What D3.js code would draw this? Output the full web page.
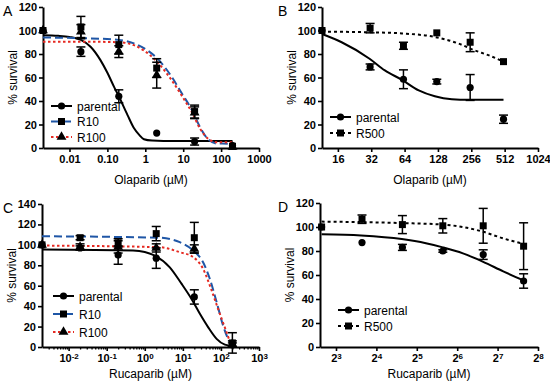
<!DOCTYPE html>
<html>
<head>
<meta charset="utf-8">
<script src="https://cdn.jsdelivr.net/npm/d3@7"></script>
<style>
  body { margin: 0; background: #fff; }
  text { font-family: Arial, "Liberation Sans", sans-serif; }
</style>
</head>
<body>
<div id="chart"></div>
<script>
// ---- panel A : olaparib, log10 doses ----
const A_doses = [0.002, 0.02, 0.2, 2, 20, 200];
const A_parental = [100, 82, 44, 12.7, 5.5, 2];
const A_parental_err = [0, 4, 5.5, 0, 3, 0];
const A_R10 = [100, 103, 88, 68, 31, 1.5];
const A_R10_err = [0, 9, 8, 8, 5.5, 0];
const A_R100 = [100, 99, 82, 62, 30, 1];
const A_R100_err = [0, 6, 5, 11, 5, 0];
const A_parental_fit = [[0.002,96],[0.005,95.5],[0.01,94.5],[0.02,92],[0.0365,86],[0.065,75],[0.1,64],[0.15,52],[0.2,44],[0.34,28],[0.5,17],[0.7,11],[0.92,7.5],[1.5,6.3],[3,6],[200,6]];
const A_R10_fit = [[0.002,94],[0.02,93.5],[0.2,92],[0.5,89],[0.92,85],[2.1,76],[4.65,62],[9.4,46],[17.2,32],[28.5,17],[47,7],[78,3.8],[200,3.7]];
const A_R100_fit = [[0.002,90.5],[0.02,90.5],[0.2,90],[0.5,87.5],[0.92,83],[2.1,73],[4.65,59],[9.4,44],[17.2,30],[28.5,16],[47,7.5],[78,5],[200,5]];
const A_ticks = [0.01, 0.1, 1, 10, 100, 1000];
const A_tickLabels = ["0.01", "0.10", "1", "10", "100", "1000"];

// ---- panel B : olaparib, log2 doses ----
const B_doses = [11.5, 31.25, 62.5, 125, 250, 500];
const B_parental = [100, 69, 58.5, 56.5, 51.5, 24.5];
const B_parental_err = [0, 2.5, 8, 2, 11, 3.5];
const B_R500 = [100, 102, 87, 98, 90, 73.5];
const B_R500_err = [0, 4, 3, 0, 8, 0];
const B_parental_fit = [[11.5,97],[17.3,90],[30.9,76],[42.5,66],[60.6,58],[85.9,49],[120,44],[171,41.5],[241,41],[500,41]];
const B_R500_fit = [[11.5,99],[30.9,98.5],[60.6,97.5],[120,94.5],[195,89],[276,83],[365,79],[500,73.5]];
const B_ticks = [16, 32, 64, 128, 256, 512, 1024];

// ---- panel C : rucaparib, log10 doses ----
const C_doses = [0.002, 0.02, 0.2, 2, 20, 200];
const C_parental = [100, 97, 90, 87, 49, 2];
const C_parental_err = [0, 2, 9, 10, 7, 2];
const C_R10 = [100, 107, 102, 111, 107, 4];
const C_R10_err = [0, 2, 4, 7, 15, 10];
const C_R100 = [100, 98, 98, 97, 96, 3];
const C_R100_err = [0, 3, 6, 4, 4, 3];
const C_parental_fit = [[0.002,95.4],[0.49,94.4],[1,93],[1.83,89.5],[4.54,78],[9.2,62],[16.9,47],[28,32.5],[46,19.5],[77,8],[127,2.3],[200,1]];
const C_R10_fit = [[0.002,108.4],[2.48,107],[8.3,102.6],[18.7,94.4],[34,83],[51,66.8],[77,44],[114,21],[155,8],[200,1.6]];
const C_R100_fit = [[0.002,99.3],[2.48,97.7],[8.3,92.8],[18.7,88],[34,76.5],[55,57],[84,37.4],[130,18],[175,5],[200,1]];
const C_ticks = [0.01, 0.1, 1, 10, 100, 1000];
const C_tickExp = ["-2", "-1", "0", "1", "2", "3"];

// ---- panel D : rucaparib, log2 doses ----
const D_doses = [6.25, 12.5, 25, 50, 100, 200];
const D_parental = [100, 87, 83, 80, 77, 55];
const D_parental_err = [0, 0, 2.5, 1, 4, 6];
const D_R500 = [100, 106.5, 102, 101, 101, 84];
const D_R500_err = [0, 3.5, 7.5, 6, 14.5, 19.5];
const D_parental_fit = [[6.25,94],[12.3,93],[24.7,90],[37.4,86.5],[50,83],[70.6,78],[100,71],[141,63],[200,55.5]];
const D_R500_fit = [[6.25,104.5],[24.7,103.3],[50,102],[70.6,100],[100,96],[141,90.5],[200,86]];
const D_ticks = [8, 16, 32, 64, 128, 256];
const D_tickExp = ["3", "4", "5", "6", "7", "8"];

const styles = {
  parental: {stroke: "#000", dash: null, marker: "circle"},
  R10: {stroke: "#1f56a6", dash: "8,4", marker: "square"},
  R100: {stroke: "#e52a22", dash: "2.5,2.5", marker: "triangle"},
  R500: {stroke: "#000", dash: "3,3", marker: "square"}
};

var svg = d3.select("#chart")
  .append("svg")
    .attr("width", 550)
    .attr("height", 384);

function marker(g, type, cx, cy) {
  if (type === "circle") {
    g.append("circle").attr("cx", cx).attr("cy", cy).attr("r", 3.6).attr("fill", "#000");
  } else {
    var sym = type === "square" ? d3.symbolSquare : d3.symbolTriangle;
    var size = type === "square" ? 49 : 42;
    g.append("path")
      .attr("d", d3.symbol(sym).size(size)())
      .attr("fill", "#000")
      .attr("transform", "translate(" + cx + "," + cy + ")");
  }
}

function drawPanel(p) {
  var x = d3.scaleLog().base(p.base).domain(p.xDomain).range([p.left, p.right]);
  var y = d3.scaleLinear().domain([0, p.yMax]).range([p.bottom, p.top]);

  // x axis
  var xa = svg.append("g")
    .attr("transform", "translate(0," + p.bottom + ")")
    .call(d3.axisBottom(x).tickValues(p.ticks).tickSize(4).tickSizeOuter(0).tickPadding(3)
      .tickFormat(function(d, i) { return p.tickLabels ? p.tickLabels[i] : ""; }));
  if (p.tickExp) {
    xa.selectAll(".tick text").each(function(d, i) {
      var t = d3.select(this);
      t.text(null);
      t.append("tspan").text(p.tickBase);
      t.append("tspan").attr("dy", "-0.4em").attr("font-size", "8px").text(p.tickExp[i]);
    });
  }
  if (p.minor) {
    svg.append("g")
      .attr("transform", "translate(0," + p.bottom + ")")
      .call(d3.axisBottom(x).tickValues(p.minor).tickSize(2.5).tickSizeOuter(0).tickFormat(""))
      .call(g => g.select(".domain").remove())
      .selectAll("line").attr("stroke-width", 1.3);
  }
  xa.selectAll(".tick text").attr("font-size", "11px").attr("font-weight", "bold")
    .attr("font-family", "Arial, 'Liberation Sans', sans-serif");
  xa.select(".domain").attr("stroke-width", 2);
  xa.selectAll(".tick line").attr("stroke-width", 1.6);

  // y axis
  var ya = svg.append("g")
    .attr("transform", "translate(" + p.left + ",0)")
    .call(d3.axisLeft(y).tickValues(d3.range(0, p.yMax + 1, 20)).tickSize(4).tickSizeOuter(0).tickPadding(2));
  ya.selectAll(".tick text").attr("font-size", "11px").attr("font-weight", "bold")
    .attr("font-family", "Arial, 'Liberation Sans', sans-serif");
  ya.select(".domain").attr("stroke-width", 2);
  ya.selectAll(".tick line").attr("stroke-width", 1.6);

  // titles
  svg.append("text")
    .text(p.xTitle)
    .attr("x", (p.left + p.right) / 2)
    .attr("y", p.bottom + p.titleDy)
    .attr("text-anchor", "middle")
    .attr("font-size", "12px");
  svg.append("text")
    .text("% survival")
    .attr("transform", "translate(" + (p.left - 26) + "," + ((p.top + p.bottom) / 2) + ") rotate(-90)")
    .attr("text-anchor", "middle")
    .attr("font-size", "12px");
  svg.append("text")
    .text(p.label)
    .attr("x", p.labelX)
    .attr("y", p.top + 9)
    .attr("font-size", "14px");

  var line = d3.line()
    .x(function(d) { return x(d[0]); })
    .y(function(d) { return y(d[1]); })
    .curve(d3.curveMonotoneX);

  // fitted curves
  p.series.forEach(function(s) {
    var st = styles[s.name];
    svg.append("path")
      .datum(s.fit)
      .attr("fill", "none")
      .attr("stroke", st.stroke)
      .attr("stroke-width", 2)
      .attr("stroke-dasharray", st.dash)
      .attr("d", line);
  });

  // error bars and markers
  var g = svg.append("g");
  p.series.forEach(function(s) {
    var st = styles[s.name];
    p.doses.forEach(function(dose, i) {
      var cx = x(dose), v = s.values[i], e = s.err[i];
      if (e > 0) {
        var y1 = y(v - e), y2 = y(v + e);
        g.append("line").attr("x1", cx).attr("x2", cx).attr("y1", y1).attr("y2", y2)
          .attr("stroke", "#000").attr("stroke-width", 1.5);
        [y1, y2].forEach(function(yy) {
          g.append("line").attr("x1", cx - 4.5).attr("x2", cx + 4.5).attr("y1", yy).attr("y2", yy)
            .attr("stroke", "#000").attr("stroke-width", 1.5);
        });
      }
      marker(g, st.marker, cx, y(v));
    });
  });

  // legend
  p.series.forEach(function(s, i) {
    var st = styles[s.name];
    var ly = p.legendY + i * p.legendStep;
    svg.append("line")
      .attr("x1", p.legendX).attr("x2", p.legendX + 21)
      .attr("y1", ly).attr("y2", ly)
      .attr("stroke", st.stroke).attr("stroke-width", 2)
      .attr("stroke-dasharray", st.dash);
    marker(svg, st.marker, p.legendX + 10.5, ly);
    svg.append("text")
      .text(s.name)
      .attr("x", p.legendX + 26)
      .attr("y", ly + 4.5)
      .attr("font-size", "12px");
  });
}

function minorTicks(lo, hi) {
  var out = [];
  for (var k = lo; k <= hi; k++) {
    for (var m = 2; m <= 9; m++) out.push(m * Math.pow(10, k));
  }
  return out;
}

drawPanel({
  label: "A", labelX: 3, base: 10, xDomain: [0.002, 1000],
  left: 43, right: 259, top: 7, bottom: 148, yMax: 120, titleDy: 36,
  ticks: A_ticks, tickLabels: A_tickLabels,
  xTitle: "Olaparib (\u00b5M)", doses: A_doses,
  legendX: 51, legendY: 106, legendStep: 15.5,
  series: [
    {name: "parental", values: A_parental, err: A_parental_err, fit: A_parental_fit},
    {name: "R10", values: A_R10, err: A_R10_err, fit: A_R10_fit},
    {name: "R100", values: A_R100, err: A_R100_err, fit: A_R100_fit}
  ]
});

drawPanel({
  label: "B", labelX: 278, base: 2, xDomain: [11.5, 1024],
  left: 322, right: 538, top: 7, bottom: 148, yMax: 120, titleDy: 36,
  ticks: B_ticks, tickLabels: B_ticks.map(String),
  xTitle: "Olaparib (\u00b5M)", doses: B_doses,
  legendX: 330, legendY: 117, legendStep: 16,
  series: [
    {name: "parental", values: B_parental, err: B_parental_err, fit: B_parental_fit},
    {name: "R500", values: B_R500, err: B_R500_err, fit: B_R500_fit}
  ]
});

drawPanel({
  label: "C", labelX: 3, base: 10, xDomain: [0.002, 1000],
  left: 42, right: 259, top: 204, bottom: 347, yMax: 140, titleDy: 31,
  ticks: C_ticks, tickBase: "10", tickExp: C_tickExp,
  minor: minorTicks(-3, 2).filter(function(v) { return v > 0.002 && v < 1000; }),
  xTitle: "Rucaparib (\u00b5M)", doses: C_doses,
  legendX: 53, legendY: 296, legendStep: 18,
  series: [
    {name: "parental", values: C_parental, err: C_parental_err, fit: C_parental_fit},
    {name: "R10", values: C_R10, err: C_R10_err, fit: C_R10_fit},
    {name: "R100", values: C_R100, err: C_R100_err, fit: C_R100_fit}
  ]
});

drawPanel({
  label: "D", labelX: 278, base: 2, xDomain: [6.08, 256],
  left: 320, right: 538, top: 203, bottom: 347, yMax: 120, titleDy: 31,
  ticks: D_ticks, tickBase: "2", tickExp: D_tickExp,
  xTitle: "Rucaparib (\u00b5M)", doses: D_doses,
  legendX: 338, legendY: 310, legendStep: 16,
  series: [
    {name: "parental", values: D_parental, err: D_parental_err, fit: D_parental_fit},
    {name: "R500", values: D_R500, err: D_R500_err, fit: D_R500_fit}
  ]
});
</script>
</body>
</html>
